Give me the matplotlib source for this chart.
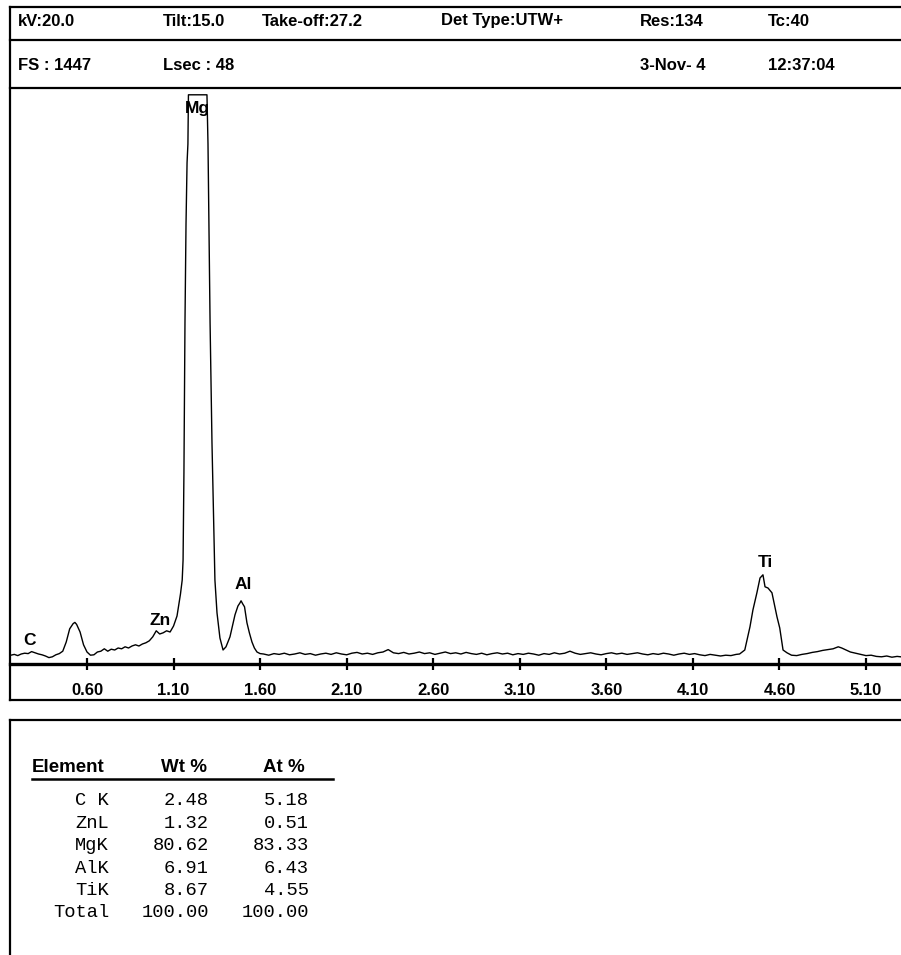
import numpy as np
import matplotlib
matplotlib.use('Agg')
import matplotlib.pyplot as plt
from matplotlib.lines import Line2D

# ---------------- data ----------------
header_row1 = ["kV:20.0", "Tilt:15.0", "Take-off:27.2", "Det Type:UTW+", "Res:134", "Tc:40"]
header_row2 = ["FS : 1447", "Lsec : 48", "", "", "3-Nov- 4", "12:37:04"]

energy_keV = [
    0.16, 0.18, 0.20, 0.22, 0.24, 0.26, 0.28, 0.30, 0.32, 0.34, 0.36, 0.38, 0.40, 0.42, 0.44,
    0.46, 0.48, 0.50, 0.52, 0.53, 0.54, 0.56, 0.58, 0.60, 0.62,
    0.64, 0.66, 0.68, 0.70, 0.72, 0.74, 0.76, 0.78, 0.80, 0.82, 0.84, 0.86, 0.88, 0.90, 0.92,
    0.94, 0.96, 0.98, 1.00, 1.02, 1.04, 1.06, 1.08, 1.10, 1.12, 1.14,
    1.150, 1.155, 1.160, 1.166, 1.172, 1.178, 1.183, 1.186, 1.20, 1.22, 1.24, 1.26, 1.28,
    1.293, 1.299, 1.311, 1.322, 1.333, 1.339, 1.351, 1.368, 1.386, 1.403, 1.426,
    1.44, 1.455, 1.472, 1.484, 1.49, 1.50, 1.51, 1.524, 1.538, 1.553, 1.567, 1.582, 1.60,
    1.62, 1.65, 1.68, 1.71, 1.74, 1.77, 1.80, 1.83, 1.86, 1.89, 1.92, 1.95, 1.98, 2.01, 2.04,
    2.07, 2.10, 2.13, 2.16, 2.19, 2.22, 2.25, 2.28, 2.31, 2.34, 2.37, 2.40, 2.43, 2.46, 2.49,
    2.52, 2.55, 2.58, 2.61, 2.64, 2.67, 2.70, 2.73, 2.76, 2.79, 2.82, 2.85, 2.88, 2.91, 2.94,
    2.97, 3.00, 3.03, 3.06, 3.09, 3.12, 3.15, 3.18, 3.21, 3.24, 3.27, 3.30, 3.33, 3.36, 3.39,
    3.42, 3.45, 3.48, 3.51, 3.54, 3.57, 3.60, 3.63, 3.66, 3.69, 3.72, 3.75, 3.78, 3.81, 3.84,
    3.87, 3.90, 3.93, 3.96, 3.99, 4.02, 4.05, 4.08, 4.11, 4.14, 4.17, 4.20, 4.23, 4.26, 4.29,
    4.32, 4.35,
    4.37, 4.40, 4.43, 4.447, 4.47, 4.488, 4.505, 4.517, 4.534, 4.557, 4.586, 4.602, 4.621, 4.644,
    4.67, 4.70, 4.73, 4.76, 4.79, 4.82, 4.85, 4.88, 4.91, 4.94, 4.96, 4.98, 5.01, 5.04, 5.07,
    5.10, 5.13, 5.16, 5.19, 5.22, 5.25, 5.28, 5.30,
]
counts = [
    22, 24, 21, 25, 27, 26, 31, 28, 25, 23, 20, 16, 18, 23, 26,
    32, 55, 88, 101, 104, 99, 80, 48, 30, 22,
    23, 30, 32, 38, 32, 37, 35, 40, 38, 43, 40, 45, 48, 45, 50,
    53, 58, 68, 83, 75, 78, 83, 80, 95, 120, 175,
    210, 260, 478, 853, 1100, 1253, 1300, 1423, 1423, 1423, 1423, 1423, 1423,
    1423, 1300, 853, 553, 330, 210, 128, 65, 35, 43, 68,
    95, 123, 145, 153, 158, 150, 143, 103, 78, 55, 40, 30, 26,
    25, 22, 26, 24, 27, 23, 25, 28, 24, 26, 22, 25, 27, 24, 28,
    25, 23, 27, 29, 25, 27, 24, 28, 30, 36, 28, 26, 29, 25, 27,
    30, 26, 28, 24, 27, 30, 26, 28, 25, 29, 26, 24, 27, 23, 26,
    28, 25, 27, 23, 26, 24, 27, 25, 22, 26, 24, 28, 25, 27, 32,
    27, 24, 26, 28, 25, 23, 26, 28, 25, 27, 24, 26, 28, 25, 23,
    26, 24, 27, 25, 22, 25, 27, 24, 26, 23, 21, 24, 22, 20, 22,
    21, 24,
    25, 35, 93, 135, 178, 215, 223, 193, 190, 178, 118, 90, 35, 28,
    22, 21, 24, 26, 29, 31, 34, 36, 38, 43, 40, 36, 30, 27, 24,
    21, 22, 19, 18, 20, 17, 19, 18,
]

peak_labels = ["C", "Zn", "Mg", "Al", "Ti"]
peak_label_E = [0.27, 1.02, 1.24, 1.50, 4.52]
peak_label_cnt = [60, 110, 1390, 198, 255]

xtick_vals = [0.60, 1.10, 1.60, 2.10, 2.60, 3.10, 3.60, 4.10, 4.60, 5.10]
xtick_labels = ["0.60", "1.10", "1.60", "2.10", "2.60", "3.10", "3.60", "4.10", "4.60", "5.10"]

tbl_elements = ["C K", "ZnL", "MgK", "AlK", "TiK", "Total"]
tbl_wt = ["2.48", "1.32", "80.62", "6.91", "8.67", "100.00"]
tbl_at = ["5.18", "0.51", "83.33", "6.43", "4.55", "100.00"]

# ---------------- figure ----------------
W, H = 901, 955
fig = plt.figure(figsize=(W / 100, H / 100), dpi=100)
fig.patch.set_facecolor("white")

def fx(x):
    return x / W

def fy(y):
    return 1 - y / H

def hline(y, x0=10, x1=901, lw=1.6):
    fig.add_artist(Line2D([fx(x0), fx(x1)], [fy(y), fy(y)], color="black", lw=lw))

def vline(x, y0, y1, lw=1.6):
    fig.add_artist(Line2D([fx(x), fx(x)], [fy(y0), fy(y1)], color="black", lw=lw))

SANS = ["Liberation Sans", "DejaVu Sans"]
MONO = ["Liberation Mono", "DejaVu Sans Mono"]

# frame of the spectrum panel
hline(7)
hline(40)
hline(88)
hline(700)
vline(10, 7, 700)

# header texts
col_x = [18, 163, 262, 441, 640, 768]
for x, t in zip(col_x, header_row1):
    fig.text(fx(x), fy(21), t, fontsize=12, fontweight="bold", family=SANS,
             ha="left", va="center")
for x, t in zip(col_x, header_row2):
    if t:
        fig.text(fx(x), fy(66), t, fontsize=12, fontweight="bold", family=SANS,
                 ha="left", va="center")

# spectrum axes
ax_left, ax_right, ax_top, ax_bot = 10, 901, 88, 664
ax = fig.add_axes([fx(ax_left), fy(ax_bot), (ax_right - ax_left) / W, (ax_bot - ax_top) / H])
ax.set_facecolor("none")
x_min = 0.6 - (87 - 10) / 173.1
x_max = 0.6 + (901 - 87) / 173.1
ax.set_xlim(x_min, x_max)
ax.set_ylim(0, (ax_bot - ax_top) * 2.5)
ax.plot(energy_keV, counts, color="black", lw=1.0)
for s in ["top", "left", "right"]:
    ax.spines[s].set_visible(False)
ax.spines["bottom"].set_linewidth(2.4)
ax.set_yticks([])
ax.set_xticks(xtick_vals)
ax.set_xticklabels(xtick_labels, fontsize=12, fontweight="bold", family=SANS)
ax.tick_params(axis="x", direction="inout", length=9, width=1.6, pad=9)

for lab, e, c in zip(peak_labels, peak_label_E, peak_label_cnt):
    ax.text(e, c, lab, fontsize=12.5, fontweight="bold", family=SANS, ha="center", va="center")

# table box
hline(720)
vline(10, 720, 955)

fig.text(fx(32), fy(767), "Element", fontsize=13.5, fontweight="bold", family=SANS,
         ha="left", va="center")
fig.text(fx(207), fy(767), "Wt %", fontsize=13.5, fontweight="bold", family=SANS,
         ha="right", va="center")
fig.text(fx(305), fy(767), "At %", fontsize=13.5, fontweight="bold", family=SANS,
         ha="right", va="center")
hline(779, 32, 333, lw=1.8)

row_y = [800, 823, 845, 868, 890, 912]
for y, el, wt, at in zip(row_y, tbl_elements, tbl_wt, tbl_at):
    fig.text(fx(109), fy(y), el, fontsize=13.5, family=MONO, ha="right", va="center")
    fig.text(fx(209), fy(y), wt, fontsize=13.5, family=MONO, ha="right", va="center")
    fig.text(fx(309), fy(y), at, fontsize=13.5, family=MONO, ha="right", va="center")

fig.savefig("out.png", dpi=100, facecolor="white")
